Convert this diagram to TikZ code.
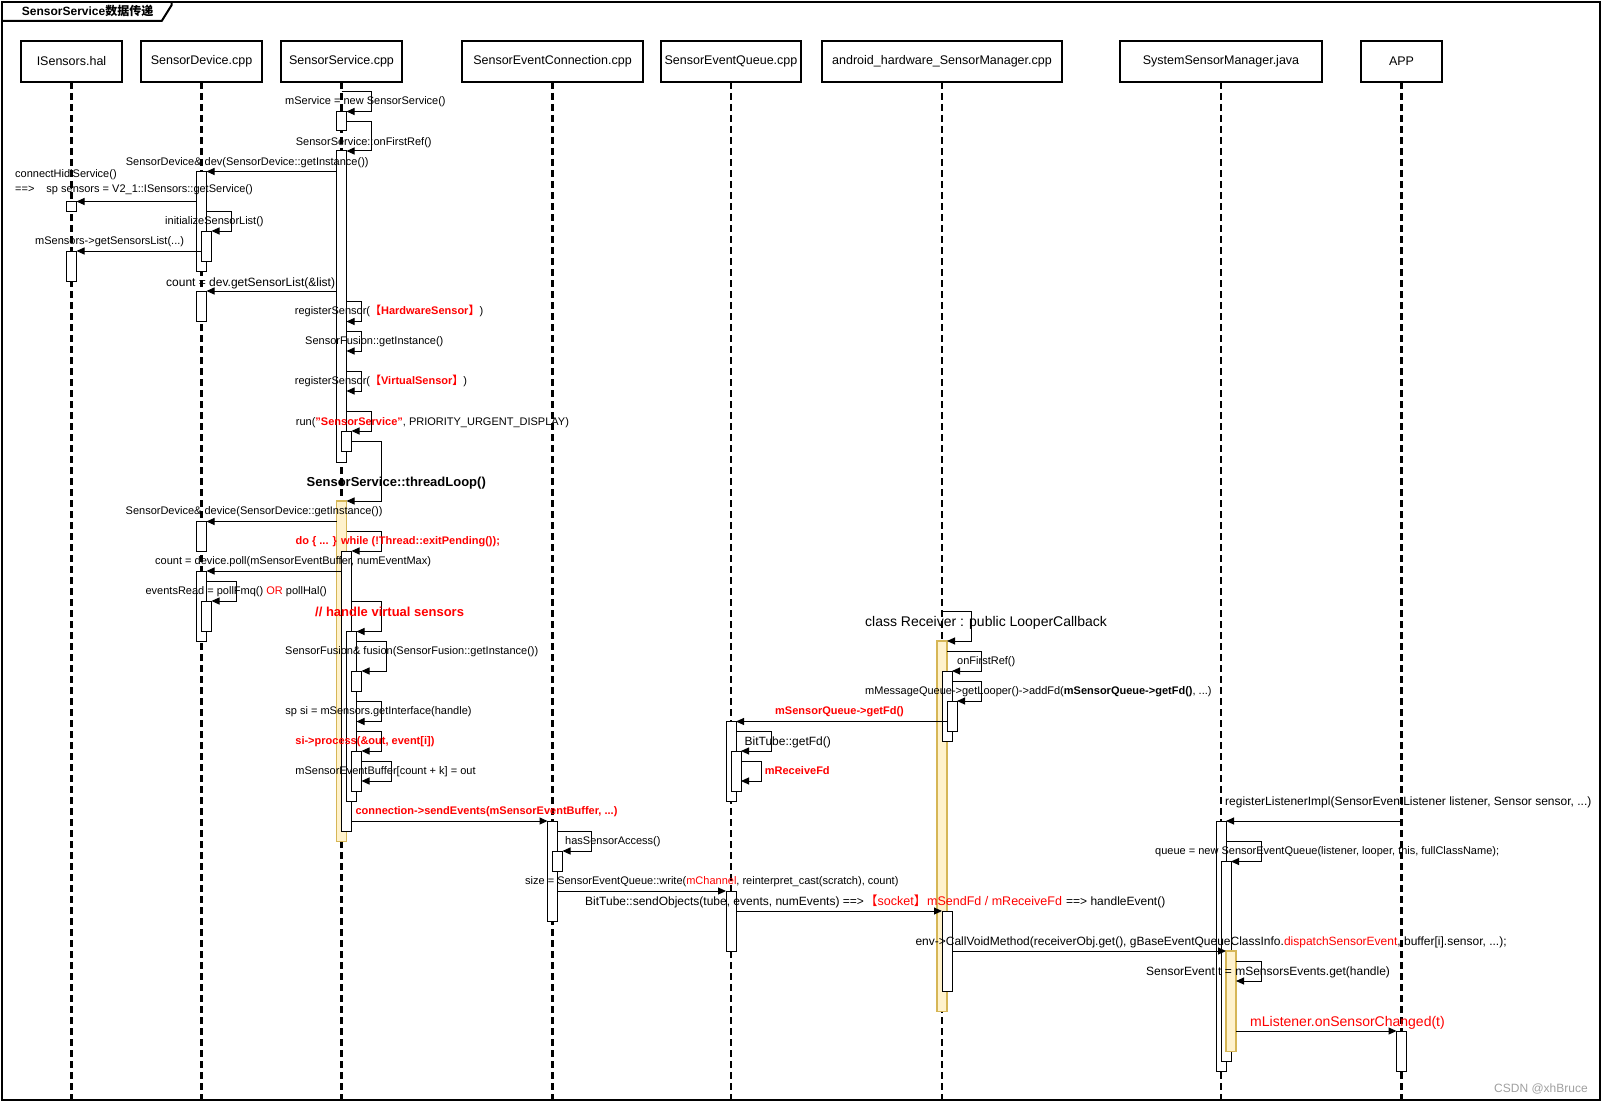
\documentclass[tikz,border=0pt]{standalone}
\usepackage{fontspec}
\setmainfont{Liberation Sans}
\newfontfamily\cjk{Noto Sans CJK SC}
\usetikzlibrary{arrows.meta}
\definecolor{yfill}{HTML}{FFF2CC}
\definecolor{ydraw}{HTML}{D6B656}
\definecolor{wm}{HTML}{A0A0A0}
\newcommand\actbox[5][act]{\node[#1, anchor=north west, minimum height={#5-#4}] (#2) at (#3,#4) {};}
\newcommand\redb[1]{\textcolor{red}{\bfseries #1}}
\newcommand\redn[1]{\textcolor{red}{#1}}
\begin{document}
\begin{tikzpicture}[x=1pt,y=-1pt,
 act/.style={draw=black, fill=white, line width=1pt, minimum width=10pt, inner sep=0pt, outer sep=0pt},
 yact/.style={draw=ydraw, fill=yfill, line width=1.6pt, minimum width=10pt, inner sep=0pt, outer sep=0pt},
 hdr/.style={draw=black, line width=1.6pt, fill=white, minimum height=41pt, inner sep=0pt, outer sep=0pt, font=\fontsize{12.5}{14}\selectfont},
 life/.style={line width=2.2pt, dash pattern=on 7pt off 4pt},
 msg/.style={line width=1pt, -{Triangle[length=8pt,width=7pt]}},
 t11/.style={inner sep=0pt, anchor=west, font=\fontsize{11}{13}\selectfont, text height=7.9pt, text depth=0pt},
 t12/.style={inner sep=0pt, anchor=west, font=\fontsize{12}{14}\selectfont, text height=8.6pt, text depth=0pt},
 t13/.style={inner sep=0pt, anchor=west, font=\fontsize{13}{15}\selectfont, text height=9.3pt, text depth=0pt},
 t14/.style={inner sep=0pt, anchor=west, font=\fontsize{14}{16}\selectfont, text height=10pt, text depth=0pt},
]
\useasboundingbox (0,0) rectangle (1602,1102);
\draw[line width=2pt] (2,2) rectangle (1600,1100);
\draw[line width=2pt] (2,21) -- (161.7,21) -- (171.7,5) -- (171.7,2);
\node[t12, font=\fontsize{12}{14}\selectfont\bfseries] (title) at (21.7,11) {SensorService{\cjk 数据传递}};

% headers
\node[hdr,minimum width=101pt] (h1) at (71.5,61.5) {ISensors.hal};
\node[hdr,minimum width=121pt] (h2) at (201.5,61.5) {SensorDevice.cpp};
\node[hdr,minimum width=121pt] (h3) at (341.5,61.5) {SensorService.cpp};
\node[hdr,minimum width=181pt] (h4) at (552.5,61.5) {SensorEventConnection.cpp};
\node[hdr,minimum width=140pt] (h5) at (731,61.5) {SensorEventQueue.cpp};
\node[hdr,minimum width=240pt] (h6) at (942,61.5) {android\_hardware\_SensorManager.cpp};
\node[hdr,minimum width=202pt] (h7) at (1221,61.5) {SystemSensorManager.java};
\node[hdr,minimum width=81pt] (h8) at (1401.5,61.5) {APP};

% lifelines
\foreach \h in {h1,h2,h3,h4,h5,h6,h7,h8} \draw[life] (\h.south) -- (\h.south |- 0,1099);

% activations
\actbox{I1}{66.5}{201.5}{211}
\actbox{I2}{66.5}{251}{281}
\actbox{D1}{196.5}{171.5}{271}
\actbox{D2}{201.5}{231}{261}
\actbox{D3}{196.5}{291}{321.5}
\actbox{D4}{196.5}{521.5}{551}
\actbox{D5}{196.5}{571}{641.5}
\actbox{D6}{201.5}{601}{631}
\actbox{A1}{336.5}{111.5}{131}
\actbox{A2}{336.5}{151}{462}
\actbox{A3}{341.5}{431}{451}
\actbox[yact]{T1}{336.5}{501}{841.5}
\actbox{T2}{341.5}{551}{831}
\actbox{T3}{346.5}{631.5}{801}
\actbox{T4}{351.5}{671}{691}
\actbox{T5}{351.5}{751}{791}
\actbox{C1}{547.5}{821}{921}
\actbox{C2}{552.5}{851}{871}
\actbox{Q1}{726}{721.5}{801}
\actbox{Q2}{731}{751}{791}
\actbox{Q3}{726}{891}{951}
\actbox[yact]{R1}{937}{641}{1011.5}
\actbox{R2}{942}{671}{741}
\actbox{R3}{947}{701}{731}
\actbox{R4}{942}{911}{991}
\actbox{S1}{1216}{821}{1071.5}
\actbox{S2}{1221}{861.5}{1061.5}
\actbox[yact]{Y2}{1226}{951}{1051.5}
\actbox{P1}{1396.5}{1031}{1071.5}

% messages
\draw[msg] (h3.south |- 0,91.5) -- (371.5,91.5) |- (A1.north east);
\draw[msg] (A1.east |- 0,121.5) -- (371.5,121.5) |- (A2.north east);
\draw[msg] (A2.west |- 0,171.5) -- (D1.north east);
\draw[msg] (D1.west |- 0,201.5) -- (I1.north east);
\draw[msg] (D1.east |- 0,211.5) -- (231.5,211.5) |- (D2.north east);
\draw[msg] (D2.west |- 0,251) -- (I2.north east);
\draw[msg] (A2.west |- 0,291) -- (D3.north east);
\draw[msg] (A2.east |- 0,301.5) -- (361.5,301.5) |- (A2.east |- 0,321.5);
\draw[msg] (A2.east |- 0,331.5) -- (361.5,331.5) |- (A2.east |- 0,351);
\draw[msg] (A2.east |- 0,371.5) -- (361.5,371.5) |- (A2.east |- 0,391);
\draw[msg] (A2.east |- 0,411.5) -- (371.5,411.5) |- (A3.north east);
\draw[msg] (A3.east |- 0,441.5) -- (381.5,441.5) |- (T1.north east);
\draw[msg] (T1.west |- 0,521.5) -- (D4.north east);
\draw[msg] (T1.east |- 0,531.5) -- (381.5,531.5) |- (T2.north east);
\draw[msg] (T2.west |- 0,571) -- (D5.north east);
\draw[msg] (D5.east |- 0,581) -- (236,581) |- (D6.north east);
\draw[msg] (T2.east |- 0,601) -- (381.5,601) |- (T3.north east);
\draw[msg] (T3.east |- 0,641.5) -- (386.5,641.5) |- (T4.north east);
\draw[msg] (T3.east |- 0,701.5) -- (381.5,701.5) |- (T3.east |- 0,721.5);
\draw[msg] (T3.east |- 0,731) -- (381.5,731) |- (T5.north east);
\draw[msg] (T5.east |- 0,761.5) -- (391.5,761.5) |- (T5.east |- 0,781);
\draw[msg] (T2.east |- 0,821) -- (C1.north west);
\draw[msg] (C1.east |- 0,831) -- (591.5,831) |- (C2.north east);
\draw[msg] (C1.east |- 0,891) -- (Q3.north west);
\draw[msg] (Q3.east |- 0,911) -- (R4.north west);
\draw[msg] (h6.south |- 0,611.5) -- (971.5,611.5) |- (R1.north east);
\draw[msg] (R1.east |- 0,651) -- (981.5,651) |- (R2.north east);
\draw[msg] (R2.east |- 0,681) -- (981.5,681) |- (R3.north east);
\draw[msg] (R3.west |- 0,721.5) -- (Q1.north east);
\draw[msg] (Q1.east |- 0,731.5) -- (771,731.5) |- (Q2.north east);
\draw[msg] (Q2.east |- 0,761.5) -- (761.5,761.5) |- (Q2.east |- 0,781);
\draw[msg] (R4.east |- 0,951) -- (Y2.north west);
\draw[msg] (h8.south |- 0,821) -- (S1.north east);
\draw[msg] (S1.east |- 0,841) -- (1261,841) |- (S2.north east);
\draw[msg] (Y2.east |- 0,961) -- (1261,961) |- (Y2.east |- 0,981);
\draw[msg] (Y2.east |- 0,1031) -- (P1.north west);

% labels
\node[t11] (l1) at (285,101) {mService = new SensorService()};
\node[t11] (l2) at (295.7,141.3) {SensorService::onFirstRef()};
\node[t11] (l3) at (125.7,161.7) {SensorDevice\& dev(SensorDevice::getInstance())};
\node[t11] (l4a) at (15,174) {connectHidlService()};
\node[t11] (l4b) at (15,188.3) {==>\hspace*{12pt}sp sensors = V2\_1::ISensors::getService()};
\node[t11] (l5) at (165,221) {initializeSensorList()};
\node[t11] (l6) at (35,241) {mSensors->getSensorsList(...)};
\node[t12] (l7) at (166,281.7) {count = dev.getSensorList(\&list)};
\node[t11] (l8) at (294.7,311) {registerSensor(\redb{{\cjk 【}HardwareSensor{\cjk 】}})};
\node[t11] (l9) at (305,341) {SensorFusion::getInstance()};
\node[t11] (l10) at (294.7,381) {registerSensor(\redb{{\cjk 【}VirtualSensor{\cjk 】}})};
\node[t11] (l11) at (295.7,421.5) {run(\redb{"SensorService"}, PRIORITY\_URGENT\_DISPLAY)};
\node[t13, font=\fontsize{13}{15}\selectfont\bfseries] (l12) at (306.5,481.7) {SensorService::threadLoop()};
\node[t11] (l13) at (125.5,511) {SensorDevice\& device(SensorDevice::getInstance())};
\node[t11] (l14) at (295.4,541) {\redb{do \{ ... \} while (!Thread::exitPending());}};
\node[t11] (l15) at (155,561) {count = device.poll(mSensorEventBuffer, numEventMax)};
\node[t11] (l16) at (145.4,591) {eventsRead = pollFmq() \redn{OR} pollHal()};
\node[t13, font=\fontsize{13}{15}\selectfont\bfseries, text=red] (l17) at (315,611.7) {// handle virtual sensors};
\node[t11] (l18) at (285,651) {SensorFusion\& fusion(SensorFusion::getInstance())};
\node[t11] (l19) at (285.2,711) {sp si = mSensors.getInterface(handle)};
\node[t11] (l20) at (295.2,741) {\redb{si->process(\&out, event[i])}};
\node[t11] (l21) at (295.2,771) {mSensorEventBuffer[count + k] = out};
\node[t11] (l22) at (355.3,811) {\redb{connection->sendEvents(mSensorEventBuffer, ...)}};
\node[t11] (l23) at (565,841) {hasSensorAccess()};
\node[t11] (l24) at (525,881) {size = SensorEventQueue::write(\redn{mChannel}, reinterpret\_cast(scratch), count)};
\node[t12] (l25a) at (585,901) {BitTube::sendObjects(tube, events, numEvents) ==>};
\node[t12, font=\fontsize{12.5}{14}\selectfont, text=red] (l25b) at (865,901) {{\cjk 【}socket{\cjk 】}};
\node[t12, font=\fontsize{12.5}{14}\selectfont, text=red] (l25c) at (927,901) {mSendFd / mReceiveFd};
\node[t12] (l25d) at (1066,901) {==> handleEvent()};
\node[t11] (l26) at (775,711) {\redb{mSensorQueue->getFd()}};
\node[t12] (l27) at (744.4,741) {BitTube::getFd()};
\node[t11] (l28) at (764.7,771) {\redb{mReceiveFd}};
\node[t14] (l29) at (865,621.7) {class Receiver : public LooperCallback};
\node[t11] (l30) at (957,661) {onFirstRef()};
\node[t11] (l31) at (865,691) {mMessageQueue->getLooper()->addFd({\bfseries mSensorQueue->getFd()}, ...)};
\node[t12] (l32) at (915.3,941) {env->CallVoidMethod(receiverObj.get(), gBaseEventQueueClassInfo.\redn{dispatchSensorEvent}, buffer[i].sensor, ...);};
\node[t12] (l33) at (1225,801) {registerListenerImpl(SensorEventListener listener, Sensor sensor, ...)};
\node[t11] (l34) at (1155,851) {queue = new SensorEventQueue(listener, looper, this, fullClassName);};
\node[t12] (l35) at (1146,971) {SensorEvent t = mSensorsEvents.get(handle)};
\node[t14, text=red] (l36) at (1250,1021.7) {mListener.onSensorChanged(t)};
\node[t12, text=wm] (l37) at (1494,1087.7) {CSDN @xhBruce};
\end{tikzpicture}
\end{document}
